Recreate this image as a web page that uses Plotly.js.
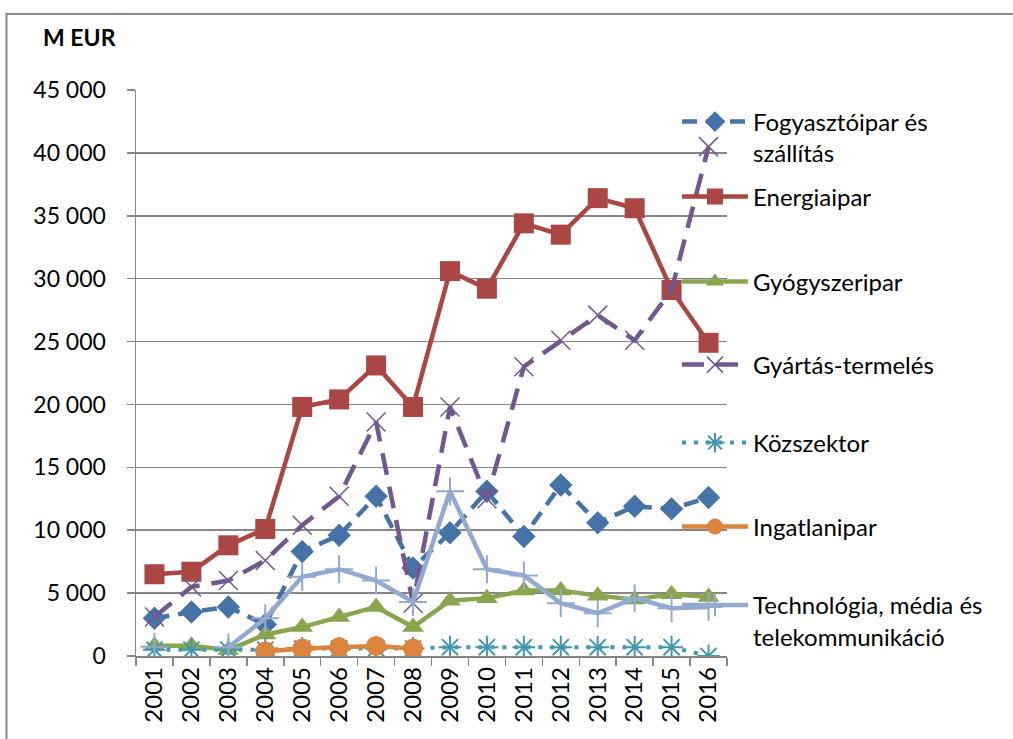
<!DOCTYPE html>
<html>
<head>
<meta charset="utf-8">
<script src="https://cdn.plot.ly/plotly-3.0.1.min.js"></script>
<style>html,body{margin:0;padding:0;background:#fff;}#chart{width:1013px;height:739px;}</style>
</head>
<body>
<div id="chart"></div>
<script>
const years = ['2001','2002','2003','2004','2005','2006','2007','2008','2009','2010','2011','2012','2013','2014','2015','2016'];
const fogyasztoipar = [3000, 3500, 3900, 2500, 8300, 9600, 12700, 7000, 9800, 13100, 9500, 13600, 10600, 11900, 11700, 12600];
const energiaipar = [6500, 6700, 8800, 10100, 19800, 20400, 23100, 19800, 30600, 29200, 34400, 33500, 36400, 35600, 29100, 24900];
const gyogyszeripar = [820, 820, 480, 1700, 2300, 3100, 3900, 2300, 4400, 4600, 5200, 5200, 4800, 4500, 4900, 4700];
const gyartas = [3100, 5500, 6000, 7600, 10400, 12700, 18600, 4200, 19800, 12500, 23000, 25100, 27100, 25100, 29100, 40500];
const kozszektor = [500, 500, 500, 500, 600, 600, 600, 600, 700, 700, 700, 700, 700, 700, 700, 0];
const ingatlanipar = [null, null, null, 350, 600, 700, 800, 600, null, null, null, null, null, null, null, null];
const technologia = [740, null, 700, 3000, 6300, 6900, 6000, 4300, 13100, 6900, 6400, 4200, 3400, 4600, 3800, 3900];
const seriesNames = ['Fogyasztóipar és<br>szállítás', 'Energiaipar', 'Gyógyszeripar', 'Gyártás-termelés', 'Közszektor', 'Ingatlanipar', 'Technológia, média és<br>telekommunikáció'];

const FONT = 'Lato, "Open Sans", sans-serif';
const GRID = '#878787';
const plotTop = 90, plotBottom = 656, plotLeft = 136, plotRight = 727;
const py = p => (plotBottom - p) / (plotBottom - plotTop);
const px = p => (p - plotLeft) / (plotRight - plotLeft);

const C = {blue:'#4573A7', red:'#AA4643', green:'#89A54E', purple:'#71588F', teal:'#4198AF', orange:'#DB843D', lblue:'#93A9CF'};

const traces = [
  {y: fogyasztoipar, name: seriesNames[0], legend:'legend',
   line:{color:C.blue, width:4.5, dash:'15px,9px'}, marker:{symbol:'diamond', size:18, color:C.blue}},
  {y: energiaipar, name: seriesNames[1], legend:'legend2',
   line:{color:C.red, width:4.5}, marker:{symbol:'square', size:20, color:C.red}},
  {y: gyogyszeripar, name: seriesNames[2], legend:'legend3',
   line:{color:C.green, width:4.5}, marker:{symbol:'triangle-up', size:19, color:C.green}},
  {y: gyartas, name: seriesNames[3], legend:'legend4',
   line:{color:C.purple, width:4.5, dash:'22px,12px'}, marker:{symbol:'x-thin-open', size:19, color:C.purple, line:{width:1.5, color:C.purple}}},
  {y: kozszektor, name: seriesNames[4], legend:'legend5',
   line:{color:C.teal, width:4, dash:'4px,8px'}, marker:{symbol:'asterisk-open', size:19, color:C.teal, line:{width:2, color:C.teal}}},
  {y: ingatlanipar, name: seriesNames[5], legend:'legend6',
   line:{color:C.orange, width:4.5}, marker:{symbol:'circle', size:20, color:C.orange}},
  {y: technologia, name: seriesNames[6], legend:'legend7',
   line:{color:C.lblue, width:4.5}, marker:{symbol:'cross-thin-open', size:20, color:C.lblue, line:{width:2, color:C.lblue}}}
].map(t => Object.assign({type:'scatter', mode:'lines+markers', x: years, connectgaps:false, hoverinfo:'skip'}, t));

const legY = [137.5, 197, 282, 365, 443, 527, 621];
const legBase = {x: px(677), xanchor:'left', yanchor:'middle', valign:'top', bgcolor:'rgba(0,0,0,0)',
  font:{family:FONT, size:24, color:'#000'}, itemwidth:66, itemsizing:'trace'};
const layout = {
  width:1013, height:739,
  margin:{l:plotLeft, r:1013-plotRight, t:plotTop, b:739-plotBottom, autoexpand:false},
  paper_bgcolor:'#fff', plot_bgcolor:'#fff',
  separators:', ',
  font:{family:FONT, size:23, color:'#000'},
  title:{text:'<b>M EUR</b>', x:43/1013, xanchor:'left', xref:'container', y:1-38/739, yanchor:'middle', yref:'container',
         font:{family:FONT, size:23, color:'#000'}},
  xaxis:{type:'category', range:[-0.5, years.length-0.5], showline:true, linecolor:GRID, linewidth:1.5, ticks:'outside', ticklen:8, tickcolor:GRID, tickwidth:1.5,
         tickson:'boundaries', tickangle:-90, showgrid:false, zeroline:false, automargin:false, tickfont:{family:FONT, size:24}},
  yaxis:{range:[0,45000], dtick:5000, tickformat:',d', showline:true, linecolor:GRID, linewidth:1.5, ticks:'outside', ticklen:8,
         tickcolor:GRID, tickwidth:1.5, gridcolor:GRID, gridwidth:1.5, zeroline:false, automargin:false, ticklabelstandoff:16, tickfont:{family:FONT, size:23}},
  shapes:[{type:'rect', xref:'paper', yref:'paper', x0:px(6.5), x1:px(1030), y0:py(760), y1:py(14), line:{color:GRID, width:2}}],
  showlegend:true
};
legY.forEach((v,i) => {
  const key = i === 0 ? 'legend' : 'legend' + (i+1);
  layout[key] = Object.assign({}, legBase, {y: py(v)});
});

Plotly.newPlot('chart', traces, layout, {displayModeBar:false, staticPlot:true});
</script>
</body>
</html>
